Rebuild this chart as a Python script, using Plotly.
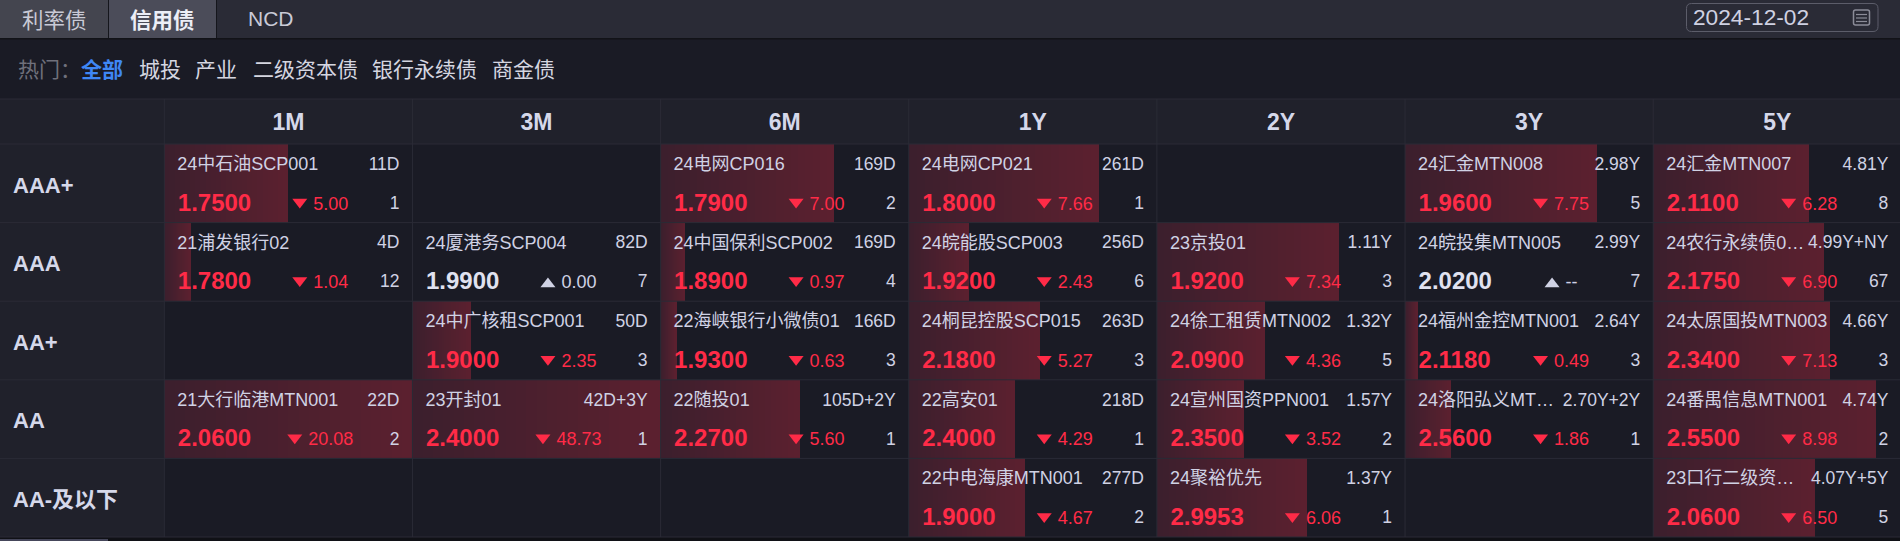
import plotly.graph_objects as go

# ---------- data ----------
tenors = ["1M", "3M", "6M", "1Y", "2Y", "3Y", "5Y"]
ratings = ["AAA+", "AAA", "AA+", "AA", "AA-及以下"]

names = [
    ["24中石油SCP001", None, "24电网CP016", "24电网CP021", None, "24汇金MTN008", "24汇金MTN007"],
    ["21浦发银行02", "24厦港务SCP004", "24中国保利SCP002", "24皖能股SCP003", "23京投01", "24皖投集MTN005", "24农行永续债0…"],
    [None, "24中广核租SCP001", "22海峡银行小微债01", "24桐昆控股SCP015", "24徐工租赁MTN002", "24福州金控MTN001", "24太原国投MTN003"],
    ["21大行临港MTN001", "23开封01", "22随投01", "22高安01", "24宣州国资PPN001", "24洛阳弘义MT…", "24番禺信息MTN001"],
    [None, None, None, "22中电海康MTN001", "24聚裕优先", None, "23口行二级资…"],
]
terms = [
    ["11D", None, "169D", "261D", None, "2.98Y", "4.81Y"],
    ["4D", "82D", "169D", "256D", "1.11Y", "2.99Y", "4.99Y+NY"],
    [None, "50D", "166D", "263D", "1.32Y", "2.64Y", "4.66Y"],
    ["22D", "42D+3Y", "105D+2Y", "218D", "1.57Y", "2.70Y+2Y", "4.74Y"],
    [None, None, None, "277D", "1.37Y", None, "4.07Y+5Y"],
]
yields = [
    ["1.7500", None, "1.7900", "1.8000", None, "1.9600", "2.1100"],
    ["1.7800", "1.9900", "1.8900", "1.9200", "1.9200", "2.0200", "2.1750"],
    [None, "1.9000", "1.9300", "2.1800", "2.0900", "2.1180", "2.3400"],
    ["2.0600", "2.4000", "2.2700", "2.4000", "2.3500", "2.5600", "2.5500"],
    [None, None, None, "1.9000", "2.9953", None, "2.0600"],
]
changes = [
    ["5.00", None, "7.00", "7.66", None, "7.75", "6.28"],
    ["1.04", "0.00", "0.97", "2.43", "7.34", "--", "6.90"],
    [None, "2.35", "0.63", "5.27", "4.36", "0.49", "7.13"],
    ["20.08", "48.73", "5.60", "4.29", "3.52", "1.86", "8.98"],
    [None, None, None, "4.67", "6.06", None, "6.50"],
]
counts = [
    ["1", None, "2", "1", None, "5", "8"],
    ["12", "7", "4", "6", "3", "7", "67"],
    [None, "3", "3", "3", "5", "3", "3"],
    ["2", "1", "1", "1", "2", "1", "2"],
    [None, None, None, "2", "1", None, "5"],
]
tabs = ["利率债", "信用债", "NCD"]
filter_prefix = "热门："
filters = ["全部", "城投", "产业", "二级资本债", "银行永续债", "商金债"]
date_text = "2024-12-02"

# ---------- style and layout ----------
W, H = 1900, 541
LABEL_W, CW = 164.3, 248.15
TOP, RH = 144, 78.6
HEAD_TOP = 99
FONT = "Liberation Sans, Noto Sans CJK SC, sans-serif"
CJK = "Noto Sans CJK SC, Liberation Sans, sans-serif"
BG = "#1a1b25"
HEAD = "#20212b"
LINE = "#2a2b36"
RED = "#ff2b47"
LIGHT = "#d0d2e4"
WHITE = "#e0e2f0"
BAR_L = (60, 31, 45)
BAR_R = (91, 32, 47)
STEPS = 24


def cx(col, px=0.0):
    return col + px / CW


def ry(row, px=0.0):
    return row + px / RH


def px(x):
    return x / W


def py(y):
    return 1 - y / H


def text_width(s, size):
    table = {".": 0.278, "-": 0.333}
    return sum(table.get(c, 0.556) for c in s) * size


fig = go.Figure()

# gradient bars: each step runs to the bar end and is covered by the next one
bx, bbase, by, bcol = [], [], [], []
for r, row in enumerate(changes):
    for c, ch in enumerate(row):
        if ch is None or ch == "--":
            continue
        frac = min(float(ch) / 10, 1.0)
        if frac <= 0:
            continue
        for i in range(STEPS):
            t = i / (STEPS - 1)
            rgb = [round(a + (b - a) * t) for a, b in zip(BAR_L, BAR_R)]
            bbase.append(c + frac * i / STEPS)
            bx.append(frac * (1 - i / STEPS))
            by.append(r + 0.5)
            bcol.append(f"rgb({rgb[0]},{rgb[1]},{rgb[2]})")
fig.add_trace(go.Bar(x=bx, y=by, base=bbase, orientation="h", width=1,
                     marker=dict(color=bcol, line=dict(width=0)), hoverinfo="skip"))

# table borders
gx, gy = [], []
for c in range(len(tenors) + 1):
    gx += [c, c, None]
    gy += [ry(0, HEAD_TOP - TOP), len(ratings), None]
for r in range(len(ratings) + 1):
    gx += [cx(0, -LABEL_W), len(tenors), None]
    gy += [r, r, None]
gx += [cx(0, -LABEL_W), len(tenors), None]
gy += [ry(0, HEAD_TOP - TOP), ry(0, HEAD_TOP - TOP), None]
fig.add_trace(go.Scatter(x=gx, y=gy, mode="lines", line=dict(color=LINE, width=1), hoverinfo="skip"))


def add_text(xs, ys, ts, pos, size, color, weight="normal", font=FONT):
    fig.add_trace(go.Scatter(x=xs, y=ys, text=ts, mode="text", textposition=pos,
                             textfont=dict(family=font, size=size, color=color, weight=weight),
                             hoverinfo="skip"))


# headers and row labels
add_text([c + 0.5 for c in range(len(tenors))], [ry(0, 124 - TOP)] * len(tenors), tenors,
         "middle center", 23, "#d5d8ea", "bold")
add_text([cx(0, 13 - LABEL_W)] * len(ratings), [ry(r, 43) for r in range(len(ratings))], ratings,
         "middle right", 22, "#d5d8ea", "bold")

# cell texts
nx, ny, nt, tx, ty, tt, cox, coy, cot = [], [], [], [], [], [], [], [], []
yr = ([], [], [])
yw = ([], [], [])
dr = ([], [], [])
dw = ([], [], [])
tri_dn = ([], [])
tri_up = ([], [])
for r in range(len(ratings)):
    for c in range(len(tenors)):
        if names[r][c] is None:
            continue
        nx.append(cx(c, 13)); ny.append(ry(r, 21.5)); nt.append(names[r][c])
        tx.append(cx(c + 1, -13)); ty.append(ry(r, 21.5)); tt.append(terms[r][c])
        cox.append(cx(c + 1, -13)); coy.append(ry(r, 60.5)); cot.append(counts[r][c])
        ch = changes[r][c]
        falling = ch not in ("--", "0.00")
        ybucket = yr if falling else yw
        ybucket[0].append(cx(c, 13.5)); ybucket[1].append(ry(r, 60.5)); ybucket[2].append(yields[r][c])
        w = text_width(ch, 18)
        tri_x = 156 - (w + 21) / 2 + 7.5
        text_x = tri_x + 13.5
        dbucket = dr if falling else dw
        dbucket[0].append(cx(c, text_x)); dbucket[1].append(ry(r, 61)); dbucket[2].append(ch)
        tb = tri_dn if falling else tri_up
        tb[0].append(cx(c, tri_x)); tb[1].append(ry(r, 58 if falling else 61.5))

add_text(nx, ny, nt, "middle right", 18, LIGHT)
add_text(tx, ty, tt, "middle left", 17.5, LIGHT)
add_text(cox, coy, cot, "middle left", 17.5, LIGHT)
add_text(yr[0], yr[1], yr[2], "middle right", 24, RED, "bold")
add_text(yw[0], yw[1], yw[2], "middle right", 24, WHITE, "bold")
add_text(dr[0], dr[1], dr[2], "middle right", 18, RED)
add_text(dw[0], dw[1], dw[2], "middle right", 18, LIGHT)
fig.add_trace(go.Scatter(x=tri_dn[0], y=tri_dn[1], mode="markers", hoverinfo="skip",
                         marker=dict(symbol="triangle-down", size=13, color=RED, line=dict(width=0))))
fig.add_trace(go.Scatter(x=tri_up[0], y=tri_up[1], mode="markers", hoverinfo="skip",
                         marker=dict(symbol="triangle-up", size=13, color=LIGHT, line=dict(width=0))))

# ---------- page furniture ----------
shapes = []


def rect(x0, y0, x1, y1, fill, line=None, lw=0, layer="below"):
    shapes.append(dict(type="rect", xref="paper", yref="paper", x0=px(x0), x1=px(x1), y0=py(y0), y1=py(y1),
                       fillcolor=fill, line=dict(color=line or fill, width=lw), layer=layer))


def rrect(x0, y0, x1, y1, rad, line, lw=1):
    a, b, c, d, rx, ry_ = px(x0), px(x1), py(y0), py(y1), rad / W, rad / H
    path = (f"M{a + rx},{c} L{b - rx},{c} Q{b},{c} {b},{c - ry_} L{b},{d + ry_} Q{b},{d} {b - rx},{d} "
            f"L{a + rx},{d} Q{a},{d} {a},{d + ry_} L{a},{c - ry_} Q{a},{c} {a + rx},{c} Z")
    shapes.append(dict(type="path", xref="paper", yref="paper", path=path, line=dict(color=line, width=lw)))


rect(0, 0, W, 38, "#2a2b36")
rect(0, 38, W, 39.5, "#121318")
rect(0, 0, 108, 38, "#44454f")
rect(109, 0, 216, 38, "#4b4c59")
rect(108, 0, 109, 38, "#15161c")
rect(216, 0, 217, 38, "#15161c")
rect(0, HEAD_TOP, W, TOP, HEAD)
rect(0, TOP, LABEL_W, TOP + RH * 5, HEAD)
rect(0, TOP + RH * 5, W, H, "#101116")
rect(0, H - 2, 108, H, "#45465a")

rrect(1686.5, 3.5, 1878, 31.5, 5, "#5c5d6a", 1)
rrect(1853.5, 10, 1869.5, 25, 2, "#8b8c98", 1.5)
for yy in (14.5, 18, 21.5):
    rect(1856, yy - 0.6, 1867, yy + 0.6, "#8b8c98", layer="above")

ann = []


def note(x, y, text, size, color, anchor="left", bold=False, font=CJK):
    ann.append(dict(x=px(x), y=py(y), xref="paper", yref="paper", text=f"<b>{text}</b>" if bold else text,
                    showarrow=False, xanchor=anchor, yanchor="middle", borderpad=0, borderwidth=0,
                    font=dict(family=font, size=size, color=color)))


note(54, 18.5, tabs[0], 21.5, "#c9cad6", "center")
note(162.5, 18.5, tabs[1], 21.5, "#eceef6", "center", True)
note(270.5, 18.5, tabs[2], 21, "#c9cad6", "center", font=FONT)
note(18, 68, filter_prefix, 21, "#6f707b")
filter_x = [81, 138.5, 195, 252.5, 372, 492]
for i, (f, fx) in enumerate(zip(filters, filter_x)):
    note(fx, 68, f, 21, "#3f87f5" if i == 0 else "#d5d6e0", bold=i == 0)
note(1693, 17.5, date_text, 22.7, "#cfd1e2", font=FONT)

fig.update_layout(
    width=W, height=H, margin=dict(l=0, r=0, t=0, b=0), autosize=False,
    paper_bgcolor=BG, plot_bgcolor="rgba(0,0,0,0)", showlegend=False,
    barmode="overlay", bargap=0,
    shapes=shapes, annotations=ann,
    xaxis=dict(range=[cx(0, -LABEL_W), cx(0, W - LABEL_W)], visible=False, fixedrange=True),
    yaxis=dict(range=[ry(0, H - TOP), ry(0, -TOP)], visible=False, fixedrange=True),
)

fig.write_html("out.html", config=dict(displayModeBar=False),
               post_script="document.body.style.margin='0';document.body.style.overflow='hidden';"
                           "document.body.style.background='#1a1b25';")
